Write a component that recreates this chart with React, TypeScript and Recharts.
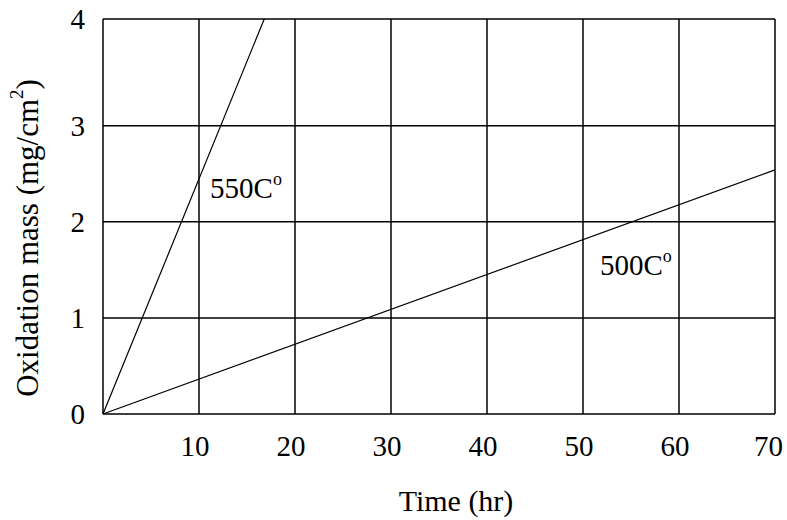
import React from "react";
import {
  LineChart,
  Line,
  XAxis,
  YAxis,
  CartesianGrid,
  ReferenceDot,
} from "recharts";

const FONT = '"Liberation Serif", "Times New Roman", serif';

// time (hr) vs oxidation mass (mg/cm2)
const hours550 = [0, 16.8];
const mass550 = [0, 4.11];
const hours500 = [0, 70];
const mass500 = [0, 2.54];

const xTicks = [0, 10, 20, 30, 40, 50, 60, 70];
const Y_TOP = 4.11; // the top border carries the "4" label
const yTicks = [0, 1, 2, 3, Y_TOP];

const data550 = hours550.map((x, i) => ({ x, y: mass550[i] }));
const data500 = hours500.map((x, i) => ({ x, y: mass500[i] }));

function TempLabel({ viewBox, temp }: any) {
  const cx = viewBox.x + viewBox.width / 2;
  const cy = viewBox.y + viewBox.height / 2;
  return (
    <text
      x={cx}
      y={cy}
      textAnchor="middle"
      dominantBaseline="central"
      fontFamily={FONT}
      fontSize={29}
      fill="#000"
    >
      {temp}C
      <tspan dy={-9} fontSize={18}>
        o
      </tspan>
    </text>
  );
}

function YTitle() {
  const x = 27;
  const y = 238;
  return (
    <text
      x={x}
      y={y}
      transform={`rotate(-90 ${x} ${y})`}
      textAnchor="middle"
      dominantBaseline="central"
      fontFamily={FONT}
      fontSize={31}
      fill="#000"
    >
      Oxidation mass (mg/cm
      <tspan dy={-11} fontSize={19}>
        2
      </tspan>
      <tspan dy={11}>)</tspan>
    </text>
  );
}

function XTitle() {
  return (
    <text
      x={456}
      y={500}
      textAnchor="middle"
      dominantBaseline="central"
      fontFamily={FONT}
      fontSize={30}
      fill="#000"
    >
      Time (hr)
    </text>
  );
}

export default function App() {
  return (
    <div style={{ position: "absolute", left: 0, top: 0, background: "#fff" }}>
      <LineChart
        width={787}
        height={520}
        margin={{ top: 19, right: 12, left: 0, bottom: 6 }}
      >
        <CartesianGrid stroke="#000" strokeWidth={1.5} />
        <XAxis
          type="number"
          dataKey="x"
          domain={[0, 70]}
          ticks={xTicks}
          tickFormatter={(v: number) => (v === 0 ? "" : String(v))}
          axisLine={false}
          tickLine={false}
          tickSize={0}
          tickMargin={21}
          height={100}
          tick={{ fontFamily: FONT, fontSize: 29, fill: "#000", dx: -4 }}
          label={<XTitle />}
        />
        <YAxis
          type="number"
          dataKey="y"
          domain={[0, Y_TOP]}
          ticks={yTicks}
          tickFormatter={(v: number) => String(Math.round(v))}
          axisLine={false}
          tickLine={false}
          tickSize={0}
          tickMargin={18}
          width={103}
          tick={{ fontFamily: FONT, fontSize: 29, fill: "#000" }}
          label={<YTitle />}
        />
        <Line
          data={data550}
          dataKey="y"
          stroke="#000"
          strokeWidth={1.2}
          dot={false}
          isAnimationActive={false}
        />
        <Line
          data={data500}
          dataKey="y"
          stroke="#000"
          strokeWidth={1.2}
          dot={false}
          isAnimationActive={false}
        />
        <ReferenceDot
          x={14.9}
          y={2.35}
          r={1}
          fill="none"
          stroke="none"
          label={<TempLabel temp="550" />}
        />
        <ReferenceDot
          x={55.5}
          y={1.55}
          r={1}
          fill="none"
          stroke="none"
          label={<TempLabel temp="500" />}
        />
      </LineChart>
    </div>
  );
}
